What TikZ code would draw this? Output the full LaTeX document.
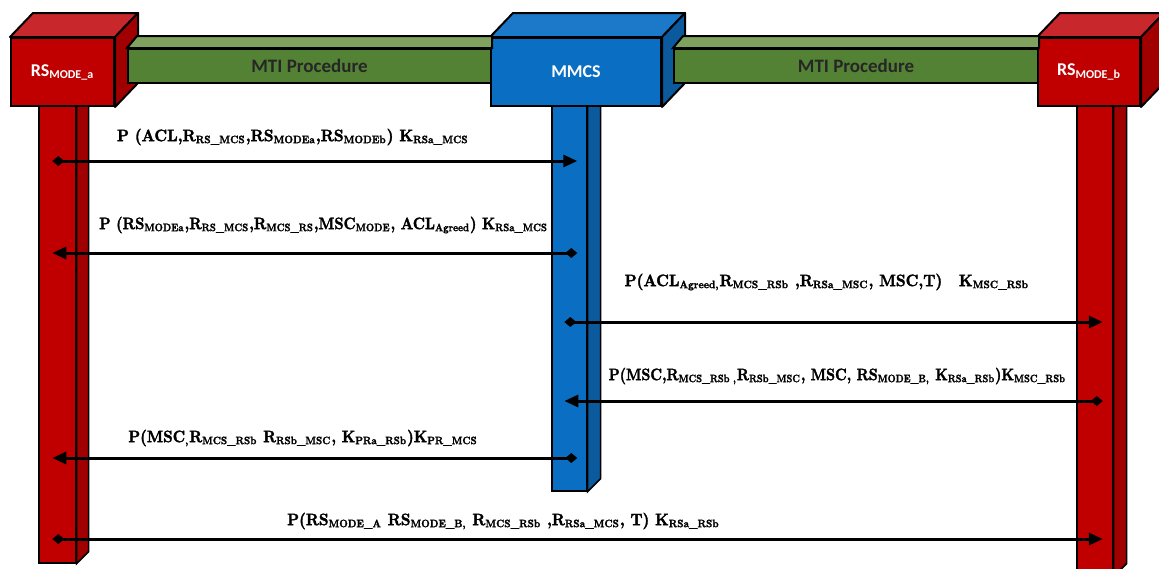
\documentclass[tikz,border=0pt]{standalone}
\usepackage{fontspec}
\newfontfamily\calfont{Carlito}
\newfontfamily\lblfont{lmroman10-bold}[Extension=.otf, FakeStretch=0.92, FakeBold=2]
\usepackage{xcolor}
\usetikzlibrary{positioning, arrows.meta, calc}

\definecolor{rsred}{HTML}{C00000}
\definecolor{rstop}{HTML}{C8282C}
\definecolor{rsside}{HTML}{A00000}
\definecolor{mcsblue}{HTML}{0A6FC2}
\definecolor{mcstop}{HTML}{1C78C8}
\definecolor{mcsside}{HTML}{0B5A9E}
\definecolor{mtigreen}{HTML}{548235}
\definecolor{mtitop}{HTML}{7FA35F}

\newcommand{\sbs}[1]{\textsubscript{#1}}
\newcommand{\msub}[1]{\textsubscript{\fontsize{5.4}{6}\selectfont #1}}
\newcommand{\msgtext}[2][1]{\scalebox{#1}[1]{#2}}
% top and side face of a box, drawn from its front node
\newcommand{\cubefaces}[3]{%
  \filldraw[#2, draw=black, line width=1pt, line join=round] (#1.north west) -- ++(23,-24) -- ($(#1.north east)+(23,-24)$) -- (#1.north east) -- cycle;
  \filldraw[#3, draw=black, line width=1pt, line join=round] (#1.north east) -- ++(23,-24) -- ($(#1.south east)+(23,-24)$) -- (#1.south east) -- cycle;
}

\begin{document}
\begin{tikzpicture}[
    x=0.5pt, y=-0.5pt,
    >={Triangle[length=7pt, width=6pt]},
    front/.style ={draw, line width=1pt, anchor=north west, minimum height=34pt, inner sep=0pt, text=white, font=\calfont\bfseries\fontsize{9}{10}\selectfont},
    rsbox/.style ={front, fill=rsred},
    mcsbox/.style={front, fill=mcsblue},
    lane/.style  ={draw, line width=0.8pt, anchor=north west, inner sep=0pt},
    bar/.style   ={draw, line width=1pt, fill=mtigreen, anchor=north west, minimum height=17pt, inner sep=0pt, font=\calfont\bfseries\fontsize{9.5}{11}\selectfont, text=black!85},
    msg/.style   ={line width=1.5pt, shorten <=-2.5pt, shorten >=-4pt},
    lbl/.style   ={inner sep=0pt, font=\lblfont\fontsize{8.3}{10}\selectfont},
]
\fill[white] (0,0) rectangle (1159,568);
\useasboundingbox (0,0) rectangle (1159,568);

% lifelines
\node[lane, fill=rsred,   minimum width=18.5pt, minimum height=228.5pt] (laneA) at (38,105) {};
\node[lane, fill=mcsblue, minimum width=17.5pt, minimum height=192.5pt] (laneM) at (551,105) {};
\node[lane, fill=rsred,   minimum width=18pt,   minimum height=235pt]   (laneB) at (1076,105) {};
\foreach \l/\c/\d in {laneA/rsside/12, laneM/mcsside/13, laneB/rsside/13}
  \filldraw[\c, draw=black, line width=0.8pt] (\l.north east) -- (\l.south east) -- ++(\d,-\d) -- ($(\l.north east)+(\d,0)$) -- cycle;

% boxes
\node[rsbox,  minimum width=51.5pt] (rsa)  at (10,37)   {RS\sbs{MODE\_a}};
\node[mcsbox, minimum width=85pt]   (mmcs) at (490,37)  {MMCS};
\node[rsbox,  minimum width=51pt]   (rsb)  at (1037,37) {RS\sbs{MODE\_b}};
\cubefaces{rsa}{rstop}{rsside}
\cubefaces{mmcs}{mcstop}{mcsside}
\cubefaces{rsb}{rstop}{rsside}

% MTI bars
\node[bar, minimum width=181.5pt] (mtiA) at (127,48) {MTI Procedure};
\node[bar, minimum width=182pt]   (mtiB) at (673,48) {MTI Procedure};
\foreach \b in {mtiA, mtiB}
  \filldraw[mtitop, draw=black, line width=1pt] (\b.north west) -- ++(10,-12) -- ($(\b.north east)+(0,-12)$) -- (\b.north east) -- cycle;

% messages
\coordinate (m1) at (0,161);
\coordinate (m2) at (0,253);
\coordinate (m3) at (0,322);
\coordinate (m4) at (0,401);
\coordinate (m5) at (0,458);
\coordinate (m6) at (0,539);

\draw[msg, {Diamond[length=6pt,width=5pt]}->] (laneA |- m1) -- (laneM |- m1)
  node[lbl, pos=.46, yshift=12pt] {\msgtext{P (ACL,R\msub{RS\_MCS},RS\msub{MODEa},RS\msub{MODEb}) K\msub{RSa\_MCS}}};
\draw[msg, <-{Diamond[length=6pt,width=5pt]}] (laneA |- m2) -- (laneM |- m2)
  node[lbl, pos=.52, yshift=14pt] {\msgtext[0.95]{P (RS\msub{MODEa},R\msub{RS\_MCS},R\msub{MCS\_RS},MSC\msub{MODE}, ACL\msub{Agreed}) K\msub{RSa\_MCS}}};
\draw[msg, {Diamond[length=6pt,width=5pt]}->] (laneM |- m3) -- (laneB |- m3)
  node[lbl, pos=.49, yshift=20pt] {\msgtext{P(ACL\msub{Agreed,}R\msub{MCS\_RSb} ,R\msub{RSa\_MSC}, MSC,T)\quad K\msub{MSC\_RSb}}};
\draw[msg, <-{Diamond[length=6pt,width=5pt]}] (laneM |- m4) -- (laneB |- m4)
  node[lbl, pos=.51, yshift=12.5pt] {\msgtext[0.92]{P(MSC,R\msub{MCS\_RSb ,}R\msub{RSb\_MSC}, MSC, RS\msub{MODE\_B,}\ K\msub{RSa\_RSb})K\msub{MSC\_RSb}}};
\draw[msg, <-{Diamond[length=6pt,width=5pt]}] (laneA |- m5) -- (laneM |- m5)
  node[lbl, pos=.48, yshift=10pt] {\msgtext[0.98]{P(MSC\msub{,}R\msub{MCS\_RSb} R\msub{RSb\_MSC}, K\msub{PRa\_RSb})K\msub{PR\_MCS}}};
\draw[msg, {Diamond[length=6pt,width=5pt]}->] (laneA |- m6) -- (laneB |- m6)
  node[lbl, pos=.43, yshift=9pt] {\msgtext[0.99]{P(RS\msub{MODE\_A} RS\msub{MODE\_B,} R\msub{MCS\_RSb} ,R\msub{RSa\_MCS}, T) K\msub{RSa\_RSb}}};

\end{tikzpicture}
\end{document}
